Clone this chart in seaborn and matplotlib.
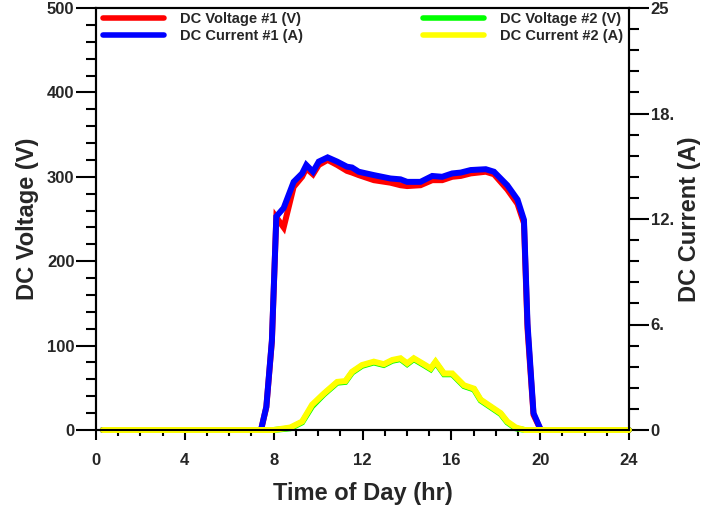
import matplotlib
matplotlib.use("Agg")
import matplotlib.pyplot as plt
import seaborn as sns
import pandas as pd
from matplotlib.ticker import MultipleLocator, FixedLocator, FixedFormatter

sns.set_style("ticks")
plt.rcParams['font.family'] = ['Liberation Sans', 'DejaVu Sans']
plt.rcParams['font.weight'] = 'bold'

# ---- data ----
time1 = [0.3, 4.0, 7.2, 7.43, 7.67, 7.92, 8.12, 8.45, 8.9, 9.28, 9.47, 9.77, 10.03,
         10.43, 10.86, 11.3, 11.53, 11.83, 12.51, 13.26, 13.71, 14.01, 14.61, 15.14,
         15.59, 16.04, 16.42, 16.87, 17.55, 17.92, 18.52, 18.98, 19.27, 19.43, 19.7,
         20.03, 22.0, 24.0]
volt1 = [0, 0, 0, 0, 27, 105, 252, 240, 288, 300, 310, 303, 314,
         320, 314, 307, 305, 302, 296, 293, 290, 289, 290, 296,
         296, 300, 301, 304, 306, 303, 285, 268, 245, 120, 18,
         0, 0, 0]
curr1 = [0, 0, 0, 0, 1.38, 5.3, 12.65, 13.15, 14.7, 15.2, 15.7, 15.3, 15.9,
         16.15, 15.9, 15.6, 15.55, 15.3, 15.1, 14.9, 14.85, 14.7, 14.7, 15.05,
         15.0, 15.2, 15.25, 15.4, 15.45, 15.3, 14.5, 13.65, 12.45, 6.3, 1.0,
         0, 0, 0]

time2 = [0.3, 4.0, 8.0, 8.75, 9.28, 9.73, 10.25, 10.86, 11.23, 11.53, 11.98, 12.51,
         12.96, 13.34, 13.71, 14.01, 14.31, 14.76, 15.07, 15.29, 15.67, 16.04, 16.57,
         17.02, 17.32, 17.77, 18.22, 18.52, 18.9, 19.3, 22.0, 24.0]
volt2 = [0, 0, 0, 2, 9, 28, 42, 56, 57, 68, 76, 80,
         77, 82, 84, 78, 84, 77, 72, 80, 66, 66, 52,
         48, 35, 27, 19, 9, 2, 0, 0, 0]
curr2 = [0, 0, 0, 0.15, 0.5, 1.5, 2.15, 2.85, 2.9, 3.45, 3.85, 4.05,
         3.9, 4.15, 4.25, 3.95, 4.25, 3.9, 3.65, 4.05, 3.35, 3.35, 2.65,
         2.45, 1.8, 1.4, 1.0, 0.5, 0.15, 0, 0, 0]

x_ticks = [0, 4, 8, 12, 16, 20, 24]
v_ticks = [0, 100, 200, 300, 400, 500]
a_ticks = [0, 6.25, 12.5, 18.75, 25]
a_labels = ["0", "6.", "12.", "18.", "25"]

df1 = pd.DataFrame({"t": time1, "V": volt1, "A": curr1})
df2 = pd.DataFrame({"t": time2, "V": volt2, "A": curr2})

fig = plt.figure(figsize=(7.02, 5.13), dpi=100)
ax = fig.add_axes([96/702, 83/513, 533/702, 422/513])
ax2 = ax.twinx()

lw = 4.3
sns.lineplot(data=df1, x="t", y="V", ax=ax, color="#ff0000", lw=lw, label="DC Voltage #1 (V)", legend=False)
sns.lineplot(data=df2, x="t", y="V", ax=ax, color="#00ff00", lw=lw, label="DC Voltage #2 (V)", legend=False)
sns.lineplot(data=df1, x="t", y="A", ax=ax2, color="#0000ff", lw=lw, label="DC Current #1 (A)", legend=False)
sns.lineplot(data=df2, x="t", y="A", ax=ax2, color="#ffff00", lw=lw, label="DC Current #2 (A)", legend=False)
for a in (ax, ax2):
    for ln in a.get_lines():
        ln.set_clip_on(False)
        ln.set_solid_joinstyle('miter')

ax.set_xlim(0, 24)
ax.set_ylim(0, 500)
ax2.set_ylim(0, 25)

ax.xaxis.set_major_locator(FixedLocator(x_ticks))
ax.xaxis.set_minor_locator(MultipleLocator(1))
ax.yaxis.set_major_locator(FixedLocator(v_ticks))
ax.yaxis.set_minor_locator(MultipleLocator(20))
ax2.yaxis.set_major_locator(FixedLocator(a_ticks))
ax2.yaxis.set_major_formatter(FixedFormatter(a_labels))
ax2.yaxis.set_minor_locator(MultipleLocator(1.25))

tick_fs = 12
ax.tick_params(axis='x', which='major', direction='out', length=7.5, width=1.5, pad=9, labelsize=tick_fs, color='black')
ax.tick_params(axis='x', which='minor', direction='out', length=4, width=1.5, color='black')
ax.tick_params(axis='y', which='major', direction='out', length=14.5, width=1.5, pad=1, labelsize=tick_fs, color='black')
ax.tick_params(axis='y', which='minor', direction='out', length=7, width=1.5, color='black')
ax2.tick_params(axis='y', which='major', direction='out', length=14.5, width=1.5, pad=1, labelsize=tick_fs, color='black')
ax2.tick_params(axis='y', which='minor', direction='out', length=7, width=1.5, color='black')
for lab in ax.get_xticklabels() + ax.get_yticklabels() + ax2.get_yticklabels():
    lab.set_fontweight('bold')

for a in (ax, ax2):
    for s in a.spines.values():
        s.set_visible(True)
        s.set_linewidth(1.5)
        s.set_color('black')

lab_fs = 17
ax.set_xlabel("Time of Day (hr)", fontsize=lab_fs, fontweight='bold', labelpad=10)
ax.set_ylabel("DC Voltage (V)", fontsize=lab_fs, fontweight='bold', labelpad=6)
ax2.set_ylabel("DC Current (A)", fontsize=lab_fs, fontweight='bold', labelpad=3)

h1 = ax.get_lines()
h2 = ax2.get_lines()
leg_kw = dict(frameon=False, handlelength=4.2, handletextpad=1.1,
              labelspacing=0.2, borderaxespad=0, borderpad=0, prop={'weight': 'bold', 'size': 10.5})
lg1 = ax2.legend([h1[0], h2[0]], ["DC Voltage #1 (V)", "DC Current #1 (A)"],
                 loc='upper left', bbox_to_anchor=(0.013, 0.99), **leg_kw)
ax2.add_artist(lg1)
lg2 = ax2.legend([h1[1], h2[1]], ["DC Voltage #2 (V)", "DC Current #2 (A)"],
                 loc='upper right', bbox_to_anchor=(0.989, 0.99), **leg_kw)
for lg in (lg1, lg2):
    for l in lg.get_lines():
        l.set_linewidth(4)

fig.savefig("out.png", dpi=100)
